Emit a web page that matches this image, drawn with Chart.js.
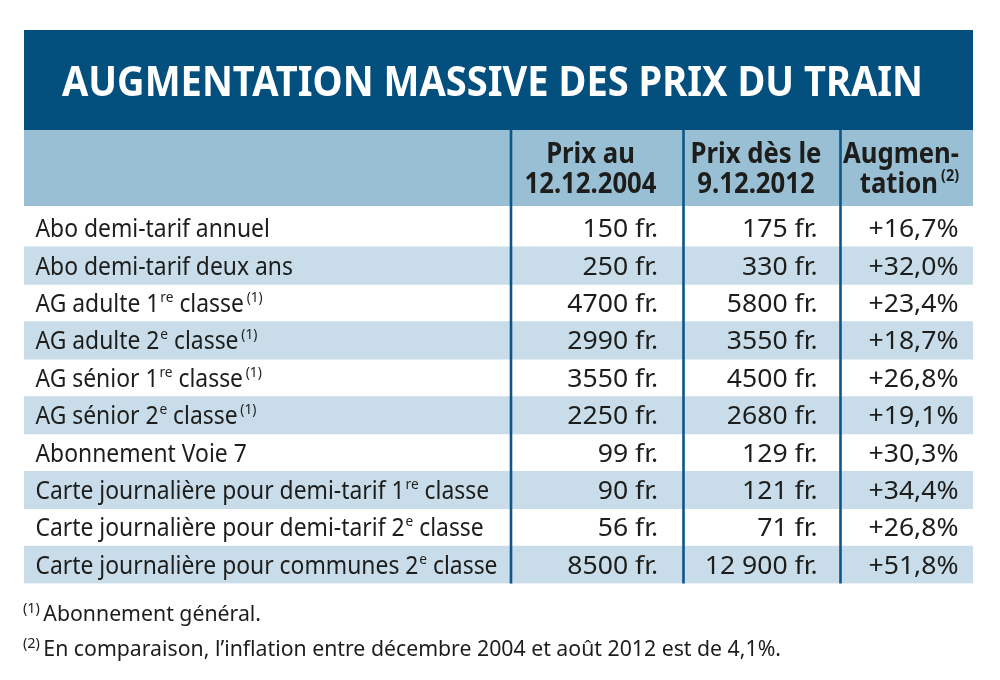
<!DOCTYPE html>
<html><head><meta charset="utf-8">
<script src="https://cdn.jsdelivr.net/npm/chart.js@4.4.1/dist/chart.umd.min.js"></script>
<style>html,body{margin:0;padding:0;background:#fff}#wrap{width:1000px;height:680px}</style>
</head><body><div id="wrap"><canvas id="c" width="1000" height="680"></canvas></div>
<script>
// ---------- DATA ----------
const titleText = 'AUGMENTATION MASSIVE DES PRIX DU TRAIN';
const rowLabels = [
  'Abo demi-tarif annuel',
  'Abo demi-tarif deux ans',
  'AG adulte 1^{re} classe^{(1)}',
  'AG adulte 2^{e} classe^{(1)}',
  'AG sénior 1^{re} classe^{(1)}',
  'AG sénior 2^{e} classe^{(1)}',
  'Abonnement Voie 7',
  'Carte journalière pour demi-tarif 1^{re} classe',
  'Carte journalière pour demi-tarif 2^{e} classe',
  'Carte journalière pour communes 2^{e} classe'
];
const price2004 = [150, 250, 4700, 2990, 3550, 2250, 99, 90, 56, 8500];
const price2012 = [175, 330, 5800, 3550, 4500, 2680, 129, 121, 71, 12900];
const increasePct = [16.7, 32.0, 23.4, 18.7, 26.8, 19.1, 30.3, 34.4, 26.8, 51.8];
const headerPrix2004 = ['Prix au', '12.12.2004'];
const headerPrix2012 = ['Prix dès le', '9.12.2012'];
const headerIncrease = ['Augmen-', 'tation^{(2)}'];
const footnotes = [
  '^{(1)}Abonnement général.',
  '^{(2)}En comparaison, l’inflation entre décembre 2004 et août 2012 est de 4,1%.'
];

// ---------- LAYOUT / STYLE ----------
const COL_EDGES = [0, 487, 659.5, 816.5, 949];     // x-scale units
const TEXT_X = { label: 11.5, v1: 634, v2: 793.5, v3: 934.5, h1: 566.5, h2: 732, h3: 935, title: 38, foot: -1 };
const BANDS = { titleTop: 30, titleBottom: 130, headerBottom: 206, head1: 162.5, head2: 192.5, foot1: 621, foot2: 656, titleBase: 96 };
const STYLE = {
  titleBg: '#03507f', headerBg: '#99bfd4', stripe: '#c8dde9', rule: '#0d5688', text: '#1d1d1b',
  family: '"Noto Sans", "Open Sans", sans-serif'
};
const FONTS = {
  title: { size: 42, weight: 700, color: '#ffffff', sup: 0.56, supGap: 0.12, fitText: titleText, fitWidth: 861 },
  head:  { size: 28, weight: 700, color: STYLE.text, sup: 0.56, supGap: 0.12, fitText: '12.12.2004', fitWidth: 132 },
  body:  { size: 25, weight: 400, color: STYLE.text, sup: 0.6, supGap: 0.12, fitText: rowLabels[9], fitWidth: 462 },
  num:   { size: 25, weight: 400, color: STYLE.text, sup: 0.6, supGap: 0.12, fitText: '+16,7%', fitWidth: 90 },
  foot:  { size: 21, weight: 400, color: STYLE.text, sup: 0.68, supGap: 0.16, fitText: footnotes[1], fitWidth: 758 }
};

// ---------- helpers ----------
function fmtPrice(n) {
  const s = n >= 10000 ? String(n).replace(/\B(?=(\d{3})+(?!\d))/g, ' ') : String(n);
  return s + ' fr.';
}
function fmtPct(v) { return '+' + v.toFixed(1).replace('.', ',') + '%'; }
function parseRich(s) {
  const out = []; const re = /\^\{([^}]*)\}/g; let last = 0, m;
  while ((m = re.exec(s))) {
    if (m.index > last) out.push({ t: s.slice(last, m.index), sup: false });
    out.push({ t: m[1], sup: true }); last = re.lastIndex;
  }
  if (last < s.length) out.push({ t: s.slice(last), sup: false });
  return out;
}
function fontStr(f, sup) { return f.weight + ' ' + (sup ? f.size * f.sup : f.size) + 'px ' + STYLE.family; }
function layoutRich(ctx, s, f) {
  const segs = parseRich(s); let x = 0; const items = [];
  segs.forEach((sg, i) => {
    if (sg.sup && sg.t[0] === '(' && i > 0) x += f.size * f.supGap;
    if (sg.sup && sg.t[0] !== '(') x += f.size * 0.04;
    ctx.font = fontStr(f, sg.sup);
    items.push({ t: sg.t, sup: sg.sup, x });
    x += ctx.measureText(sg.t).width;
    if (sg.sup && i === 0) x += f.size * f.supGap;
  });
  return { items, width: x };
}
function fitScale(ctx, f) {
  if (f.sx) return f.sx;
  const w = layoutRich(ctx, f.fitText, f).width;
  f.sx = f.fitWidth / w; return f.sx;
}
function drawRich(ctx, s, x, y, align, f) {
  const sx = fitScale(ctx, f);
  const lay = layoutRich(ctx, s, f);
  let x0 = x;
  if (align === 'right') x0 = x - lay.width * sx;
  else if (align === 'center') x0 = x - lay.width * sx / 2;
  ctx.save();
  ctx.translate(x0, y); ctx.scale(sx, 1);
  ctx.fillStyle = f.color; ctx.textBaseline = 'alphabetic'; ctx.textAlign = 'left';
  lay.items.forEach(it => {
    ctx.font = fontStr(f, it.sup);
    ctx.fillText(it.t, it.x, it.sup ? -f.size * 0.40 : 0);
  });
  ctx.restore();
}

// ---------- plugin ----------
const tablePlugin = {
  id: 'tableDecor',
  beforeDatasetsDraw(chart) {
    const { ctx, scales: { x } } = chart;
    const L = x.getPixelForValue(COL_EDGES[0]), R = x.getPixelForValue(COL_EDGES[COL_EDGES.length - 1]);
    ctx.save();
    ctx.fillStyle = STYLE.titleBg; ctx.fillRect(L, BANDS.titleTop, R - L, BANDS.titleBottom - BANDS.titleTop);
    ctx.fillStyle = STYLE.headerBg; ctx.fillRect(L, BANDS.titleBottom, R - L, BANDS.headerBottom - BANDS.titleBottom);
    ctx.restore();
  },
  afterDatasetsDraw(chart) {
    const { ctx, chartArea, scales: { x, y } } = chart;
    ctx.save();
    ctx.strokeStyle = STYLE.rule; ctx.lineWidth = 2.6;
    for (let i = 1; i < COL_EDGES.length - 1; i++) {
      const px = x.getPixelForValue(COL_EDGES[i]);
      ctx.beginPath(); ctx.moveTo(px, BANDS.titleBottom); ctx.lineTo(px, chartArea.bottom); ctx.stroke();
    }
    ctx.restore();
    // title
    drawRich(ctx, titleText, x.getPixelForValue(TEXT_X.title), BANDS.titleBase, 'left', FONTS.title);
    // headers
    const hb = [BANDS.head1, BANDS.head2];
    headerPrix2004.forEach((t, i) => drawRich(ctx, t, x.getPixelForValue(TEXT_X.h1), hb[i], 'center', FONTS.head));
    headerPrix2012.forEach((t, i) => drawRich(ctx, t, x.getPixelForValue(TEXT_X.h2), hb[i], 'center', FONTS.head));
    headerIncrease.forEach((t, i) => drawRich(ctx, t, x.getPixelForValue(TEXT_X.h3), hb[i], 'right', FONTS.head));
    // rows
    const capOff = FONTS.body.size * 0.357;
    rowLabels.forEach((lab, i) => {
      const cy = y.getPixelForValue(i) + capOff;
      drawRich(ctx, lab, x.getPixelForValue(TEXT_X.label), cy, 'left', FONTS.body);
      drawRich(ctx, fmtPrice(price2004[i]), x.getPixelForValue(TEXT_X.v1), cy, 'right', FONTS.num);
      drawRich(ctx, fmtPrice(price2012[i]), x.getPixelForValue(TEXT_X.v2), cy, 'right', FONTS.num);
      drawRich(ctx, fmtPct(increasePct[i]), x.getPixelForValue(TEXT_X.v3), cy, 'right', FONTS.num);
    });
    // footnotes
    drawRich(ctx, footnotes[0], x.getPixelForValue(TEXT_X.foot), BANDS.foot1, 'left', FONTS.foot);
    drawRich(ctx, footnotes[1], x.getPixelForValue(TEXT_X.foot), BANDS.foot2, 'left', FONTS.foot);
  }
};

const stripeSpans = rowLabels.map((_, i) => (i % 2 === 1 ? [COL_EDGES[0], COL_EDGES[COL_EDGES.length - 1]] : null));

new Chart(document.getElementById('c'), {
  type: 'bar',
  data: {
    labels: rowLabels,
    datasets: [{ data: stripeSpans, backgroundColor: STYLE.stripe, borderWidth: 0, barPercentage: 1, categoryPercentage: 1 }]
  },
  options: {
    indexAxis: 'y', responsive: false, animation: false, devicePixelRatio: 1,
    layout: { padding: { top: 209.5, bottom: 96.5, left: 24, right: 27 } },
    scales: {
      x: { type: 'linear', min: COL_EDGES[0], max: COL_EDGES[COL_EDGES.length - 1], display: false },
      y: { type: 'category', display: false }
    },
    plugins: { legend: { display: false }, tooltip: { enabled: false }, title: { display: false } }
  },
  plugins: [tablePlugin]
});
</script></body></html>
